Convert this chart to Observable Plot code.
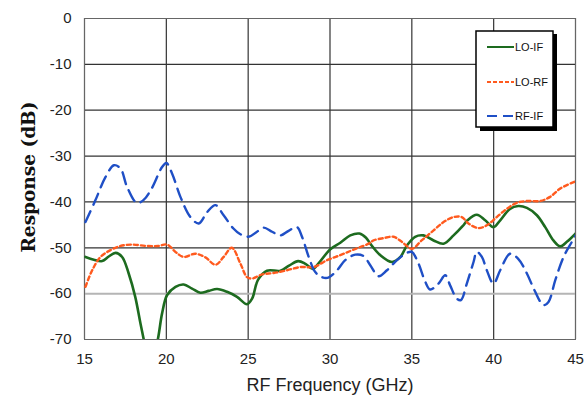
<!DOCTYPE html>
<html>
<head>
<meta charset="utf-8">
<script src="https://cdn.jsdelivr.net/npm/d3@7"></script>
<script src="https://cdn.jsdelivr.net/npm/@observablehq/plot@0.6"></script>
<style>
  html, body { margin: 0; padding: 0; background: #fff; }
  #chart { position: relative; width: 587px; height: 398px; }
</style>
</head>
<body>
<div id="chart"></div>
<script>
const xTicks = [15, 20, 25, 30, 35, 40, 45];
const yTicks = [0, -10, -20, -30, -40, -50, -60, -70];
const seriesNames = ["LO-IF", "LO-RF", "RF-IF"];

const loIfFreq = [15.06,15.57,16.08,16.48,16.9,17.3,17.7,18.1,18.42,18.62,19.0,19.48,19.74,20.05,20.56,21.06,21.57,22.08,22.59,23.1,23.71,24.32,24.93,25.24,25.6,26.15,26.97,27.5,28.05,28.5,28.95,29.3,30.02,30.63,31.24,31.8,32.2,32.46,33.07,33.79,34.3,34.7,35.2,35.71,36.33,36.94,37.55,38.1,38.4,38.97,39.48,39.99,40.4,41.0,41.5,42.03,42.64,43.15,43.65,44.06,44.47,45.0];
const loIfResp = [-52.0,-52.6,-52.9,-51.9,-51.1,-52.0,-55.6,-60.7,-66.5,-70.0,-77,-70.0,-64.3,-60.3,-58.5,-58.0,-58.9,-59.8,-59.4,-59.0,-59.6,-60.7,-62.3,-61.1,-57.0,-55.0,-55.0,-53.9,-52.9,-53.5,-54.6,-53.4,-50.3,-48.9,-47.3,-46.9,-47.8,-49.1,-51.6,-53.1,-52.0,-49.5,-47.6,-47.3,-48.4,-49.1,-47.3,-45.3,-44.0,-42.8,-44.0,-45.5,-44.0,-41.5,-40.9,-41.3,-42.9,-45.5,-48.4,-49.7,-48.7,-46.9];

const loRfFreq = [15.06,15.47,15.98,16.59,17.2,17.9,18.8,19.5,20.05,20.56,21.06,21.77,22.39,23.0,23.5,24.0,24.52,24.93,25.24,25.85,26.56,27.37,28.19,29.0,29.82,30.63,31.44,32.36,32.66,33.27,33.88,34.39,35.0,35.6,36.33,36.94,37.55,38.05,38.46,39.07,39.58,40.19,40.8,41.41,42.03,42.84,43.45,44.06,45.0];
const loRfResp = [-58.5,-54.9,-52.0,-50.5,-49.6,-49.3,-49.6,-49.6,-49.3,-50.9,-52.0,-51.3,-52.1,-53.7,-52.0,-50.0,-53.4,-56.4,-56.7,-55.8,-55.5,-54.9,-54.2,-54.2,-52.7,-51.6,-50.4,-49.1,-48.4,-47.9,-47.6,-48.7,-50.2,-48.4,-46.2,-44.4,-43.3,-43.3,-44.7,-45.7,-45.1,-43.3,-41.5,-40.2,-39.8,-39.8,-38.9,-37.1,-35.5];

const rfIfFreq = [15.06,15.67,16.28,16.8,17.2,17.6,18.2,18.6,19.1,19.74,20.0,20.35,20.86,21.47,21.98,22.5,23.0,23.5,24.1,24.5,25.03,25.54,25.95,26.46,26.97,27.47,27.98,28.29,28.7,29.1,29.5,29.9,30.43,30.93,31.54,32.05,32.46,32.97,33.48,34.09,34.7,35.0,35.4,35.82,36.12,36.63,37.04,37.34,37.75,38.0,38.36,38.77,38.97,39.28,39.58,39.99,40.4,41.0,41.5,42.03,42.5,43.04,43.35,43.76,44.27,44.78,45.0];
const rfIfResp = [-44.4,-39.6,-34.6,-32.0,-32.7,-36.7,-40.2,-39.6,-37.1,-32.4,-31.5,-33.8,-38.9,-43.3,-44.7,-42.2,-40.7,-42.9,-45.8,-47.0,-47.6,-46.5,-45.6,-46.5,-47.3,-46.3,-45.5,-47.6,-52.0,-55.3,-56.4,-56.5,-54.9,-52.7,-51.5,-51.8,-53.8,-56.2,-54.9,-52.7,-51.1,-50.9,-53.4,-57.4,-59.1,-57.8,-56.0,-58.2,-61.1,-61.4,-57.8,-53.1,-50.9,-52.0,-54.9,-57.8,-54.9,-51.3,-52.4,-55.6,-59.3,-62.5,-61.8,-57.1,-52.0,-48.7,-47.3];

const toRows = (fs, vs) => fs.map((f, i) => ({f, v: vs[i]}));
const loIf = toRows(loIfFreq, loIfResp);
const loRf = toRows(loRfFreq, loRfResp);
const rfIf = toRows(rfIfFreq, rfIfResp);

const colors = ["#1d6b1f", "#ff5a1e", "#1f4fc6"];
const dashes = [null, "4,3", "12,7"];

const chart = Plot.plot({
  width: 587,
  height: 398,
  marginLeft: 84,
  marginRight: 12,
  marginTop: 18,
  marginBottom: 59,
  x: {domain: [15, 45], label: null},
  y: {domain: [-70, 0], label: null},
  style: {fontFamily: "'Liberation Sans', Arial, sans-serif", fontSize: "15px", color: "#222", background: "#fff"},
  marks: [
    Plot.ruleX(xTicks, {stroke: "#333", strokeWidth: 1.2}),
    Plot.ruleY(yTicks.filter(d => d !== -60), {stroke: "#333", strokeWidth: 1.2}),
    Plot.ruleY(yTicks.filter(d => d === -60), {stroke: "#b5b5b5", strokeWidth: 2}),
    Plot.frame({stroke: "#666", strokeWidth: 1}),
    Plot.axisX({ticks: xTicks, tickSize: 0, tickPadding: 14, fontSize: 15, label: null, tickFormat: d => String(d)}),
    Plot.axisY({ticks: yTicks, tickSize: 0, tickPadding: 13, fontSize: 15, label: null, tickFormat: d => String(d)}),
    Plot.line(loIf, {x: "f", y: "v", stroke: colors[0], strokeWidth: 2.6, curve: "catmull-rom", clip: true}),
    Plot.line(loRf, {x: "f", y: "v", stroke: colors[1], strokeWidth: 2.4, strokeDasharray: dashes[1], curve: "catmull-rom", clip: true}),
    Plot.line(rfIf, {x: "f", y: "v", stroke: colors[2], strokeWidth: 2.4, strokeDasharray: dashes[2], curve: "catmull-rom", clip: true})
  ]
});
document.getElementById("chart").appendChild(chart);

const svg = d3.select(chart);
// axis titles
svg.append("text")
  .attr("x", 330).attr("y", 391)
  .attr("text-anchor", "middle")
  .style("font-family", "'Liberation Sans', Arial, sans-serif")
  .style("font-size", "18px")
  .attr("fill", "#222")
  .text("RF Frequency (GHz)");
svg.append("text")
  .attr("transform", "translate(35,177) rotate(-90)")
  .attr("text-anchor", "middle")
  .style("font-family", "'DejaVu Serif', serif")
  .style("font-weight", "bold")
  .style("font-size", "18.5px")
  .attr("fill", "#111")
  .text("Response (dB)");

// legend
const lg = svg.append("g");
lg.append("rect").attr("x", 480).attr("y", 34).attr("width", 77).attr("height", 97).attr("fill", "#000");
lg.append("rect").attr("x", 476).attr("y", 31).attr("width", 77).attr("height", 96).attr("fill", "#fff").attr("stroke", "#000").attr("stroke-width", 1.5);
const ly = [47, 82, 116];
seriesNames.forEach((name, i) => {
  lg.append("line").attr("x1", 487).attr("x2", 514).attr("y1", ly[i]).attr("y2", ly[i])
    .attr("stroke", colors[i]).attr("stroke-width", 2)
    .attr("stroke-dasharray", i === 1 ? "4,2" : i === 2 ? "10,6" : null);
  lg.append("text").attr("x", 515).attr("y", ly[i]).attr("dy", "0.35em")
    .attr("text-anchor", "start")
    .style("font-family", "'Liberation Sans Narrow', 'Liberation Sans', Arial, sans-serif")
    .style("font-size", "11px").attr("fill", "#111").text(name);
});
</script>
</body>
</html>
